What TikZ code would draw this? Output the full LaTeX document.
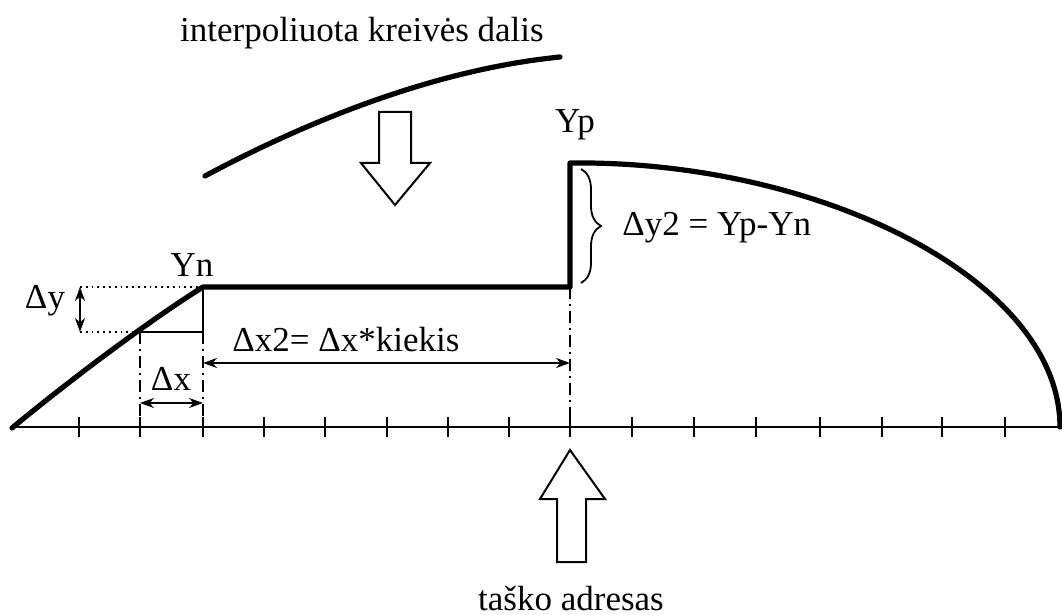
\documentclass[tikz,border=0pt]{standalone}
\usepackage{fontspec}
\setmainfont{Liberation Serif}
\usepackage{tikz}
\usetikzlibrary{arrows.meta, calc, decorations.pathreplacing}

\tikzset{
  curve/.style={line width=2.6pt, line cap=round, line join=round},
  thin line/.style={line width=0.9pt},
  dashdot line/.style={line width=0.9pt, dash pattern=on 6pt off 2.5pt on 1pt off 2.5pt},
  dim arrow/.style={line width=0.9pt, {Stealth[length=7pt,width=5pt]}-{Stealth[length=7pt,width=5pt]}},
  block arrow/.style={line width=1pt, fill=white, line join=miter},
  lbl/.style={font=\fontsize{17.5}{20}\selectfont, inner sep=0pt}
}

\begin{document}
\begin{tikzpicture}[x=0.5pt, y=-0.5pt]
        \useasboundingbox (0,0) rectangle (1062,615);

        % key points of the curve
        \coordinate (start) at (12,428);
        \coordinate (yn) at (203,287);
        \coordinate (ynb) at (203,332);
        \coordinate (dxl) at (140,332);
        \coordinate (dyl) at (80,332);
        \coordinate (dyt) at (80,287);
        \coordinate (ypb) at (570,287);
        \coordinate (yp) at (570,163);
        \coordinate (end) at (1060,427);

        % x axis with ticks
        \draw[thin line] (10,427) -- (1062,427);
        \foreach \x in {79,140,203,264,325,387,448,509,570,632,694,756,820,882,942,1005}
            \draw[thin line] (\x,417) -- (\x,437);

        % the curve itself
        \draw[curve] (start) .. controls (70,380) and (150,320) .. (yn) -- (ypb) -- (yp)
            .. controls (820,160) and (1060,280) .. (end);

        % interpolated part above
        \draw[curve] (205,176) .. controls (300,125) and (430,70) .. (560,57);
        \node[lbl] (interp) at (362,33) {interpoliuota kreivės dalis};

        % big arrows
        \draw[block arrow] (379,112) -- (411,112) -- (411,163) -- (430,163) -- (395,205)
            -- (361,163) -- (379,163) -- cycle;
        \draw[block arrow] (557,562) -- (586,562) -- (586,499) -- (605,499) -- (570,450)
            -- (540,499) -- (557,499) -- cycle;
        \node[lbl] (addr) at (571,598) {taško adresas};

        % small step dy, dx
        \draw[thin line, dotted] (dyt) -- (yn);
        \draw[thin line, dotted] (dyl) -- (dxl);
        \draw[thin line] (dxl) -- (ynb) -- (yn);
        \draw[dim arrow] (dyt) -- (dyl);
        \node[lbl] (dy) at (45,301) {Δy};
        \draw[dashdot line] (dxl) -- (140,427);
        \draw[dashdot line] (ynb) -- (203,427);
        \draw[dim arrow] (140,403) -- (203,403);
        \node[lbl] (dx) at (171,379) {Δx};
        \node[lbl] (ynl) at (192,265) {Yn};

        % big step
        \draw[dashdot line] (ypb) -- (570,427);
        \draw[dim arrow] (203,363) -- (570,363);
        \node[lbl, anchor=west] (dx2) at (232,340) {Δx2= Δx*kiekis};
        \node[lbl] (ypl) at (575,125) {Yp};
        \draw[thin line, decorate, decoration={brace, amplitude=10pt}] (581,169) -- (581,283);
        \node[lbl, anchor=west] (dy2) at (622,228) {Δy2 = Yp-Yn};
\end{tikzpicture}
\end{document}
